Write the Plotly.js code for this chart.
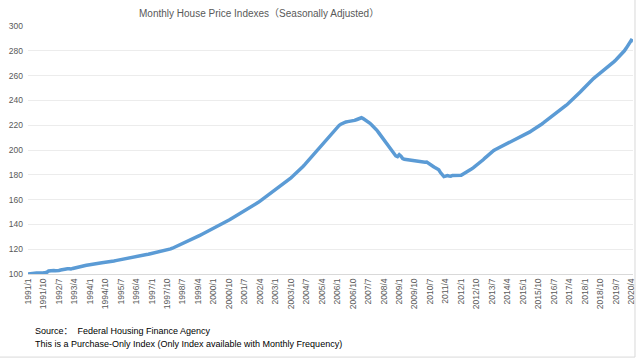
<!DOCTYPE html>
<html>
<head>
<meta charset="utf-8">
<script src="https://cdn.plot.ly/plotly-3.0.1.min.js"></script>
<style>html,body{margin:0;padding:0;background:#fff;}#chart{width:640px;height:359px;}</style>
</head>
<body>
<div id="chart"></div>
<script>
// Monthly House Price Index (SA), 1991/1 – 2020/5
const startYear = 1991;
const hpi1991 = [100.0,100.3,100.5,100.6,100.6,100.8,100.9,100.8,101.0,101.1,101.2,101.4];
const hpi1992 = [102.4,102.8,102.6,102.9,102.7,102.5,102.8,103.2,103.6,103.9,104.4,104.2];
const hpi1993 = [104.3,104.0,104.5,104.9,105.3,105.6,105.9,106.3,106.6,106.9,107.0,107.3];
const hpi1994 = [107.6,107.9,108.3,108.5,108.7,108.6,108.9,109.1,109.3,109.4,109.6,109.8];
const hpi1995 = [109.9,110.1,110.5,110.8,111.1,111.5,111.9,112.2,112.4,112.7,113.0,113.1];
const hpi1996 = [113.4,113.6,114.0,114.2,114.5,114.7,114.9,115.1,115.4,115.7,115.9,116.2];
const hpi1997 = [116.3,116.6,116.9,117.2,117.5,117.8,118.1,118.4,118.8,119.2,119.7,120.2];
const hpi1998 = [120.8,121.4,122.0,122.7,123.3,123.9,124.6,125.4,126.1,126.8,127.5,128.1];
const hpi1999 = [128.7,129.3,129.9,130.6,131.2,131.9,132.6,133.2,133.9,134.6,135.3,136.0];
const hpi2000 = [136.7,137.4,138.2,139.0,139.7,140.5,141.3,142.1,142.8,143.6,144.4,145.2];
const hpi2001 = [146.0,146.8,147.6,148.4,149.2,150.0,150.8,151.6,152.4,153.3,154.2,155.1];
const hpi2002 = [156.0,156.9,157.8,158.8,159.8,160.8,161.8,162.8,163.8,164.8,165.8,166.8];
const hpi2003 = [167.8,168.8,169.9,170.9,171.9,172.9,174.0,175.2,176.4,177.6,178.8,180.0];
const hpi2004 = [181.2,182.5,183.8,185.2,186.7,188.2,189.8,191.4,193.0,194.6,196.2,197.8];
const hpi2005 = [199.4,201.0,202.6,204.2,205.8,207.4,209.0,210.8,212.6,214.3,215.8,217.2];
const hpi2006 = [218.6,219.8,220.8,221.6,222.2,222.6,222.9,223.0,223.2,223.5,223.9,224.4];
const hpi2007 = [224.8,225.3,226.0,225.3,224.5,223.6,222.6,221.5,220.2,218.9,217.5,215.9];
const hpi2008 = [214.0,212.2,210.3,208.4,206.5,204.6,202.8,200.9,199.0,197.2,195.2,194.6];
const hpi2009 = [196.2,195.0,193.1,192.5,192.3,191.8,191.6,191.4,191.2,191.0,190.8,190.9];
const hpi2010 = [190.5,190.0,189.8,190.1,190.3,189.2,187.9,187.2,186.5,185.6,184.9,184.0];
const hpi2011 = [181.8,180.0,178.6,178.9,179.4,179.1,178.9,179.5,179.6,179.2,179.8,179.4];
const hpi2012 = [179.6,180.5,181.5,182.3,183.2,183.9,184.7,185.6,186.6,187.6,188.7,189.8];
const hpi2013 = [191.0,192.3,193.7,195.0,196.4,197.6,198.7,199.6,200.4,201.1,201.7,202.3];
const hpi2014 = [203.0,203.8,204.6,205.3,205.9,206.5,207.1,207.8,208.5,209.1,209.8,210.6];
const hpi2015 = [211.4,212.2,213.0,213.8,214.6,215.5,216.3,217.2,218.1,219.0,220.0,221.0];
const hpi2016 = [222.0,223.0,224.0,225.0,226.0,227.0,228.0,229.1,230.2,231.3,232.4,233.6];
const hpi2017 = [234.7,235.9,237.1,238.3,239.5,240.8,242.1,243.5,244.9,246.3,247.8,249.3];
const hpi2018 = [250.8,252.3,253.8,255.1,256.4,257.6,258.7,259.8,260.8,261.8,262.8,263.9];
const hpi2019 = [265.0,266.3,267.6,268.9,270.1,271.3,272.6,273.9,275.3,276.8,278.4,280.0];
const hpi2020 = [282.0,284.0,286.5,288.5,287.8];

const yearly = [hpi1991,hpi1992,hpi1993,hpi1994,hpi1995,hpi1996,hpi1997,hpi1998,hpi1999,hpi2000,
  hpi2001,hpi2002,hpi2003,hpi2004,hpi2005,hpi2006,hpi2007,hpi2008,hpi2009,hpi2010,
  hpi2011,hpi2012,hpi2013,hpi2014,hpi2015,hpi2016,hpi2017,hpi2018,hpi2019,hpi2020];

const values = [];
const monthLabels = [];
yearly.forEach((arr, yi) => {
  arr.forEach((v, mi) => {
    values.push(v);
    monthLabels.push((startYear + yi) + '/' + (mi + 1));
  });
});
const xIdx = values.map((_, i) => i);
const tickStep = 9;
const tickVals = [];
const tickText = [];
for (let i = 0; i < monthLabels.length - 1; i += tickStep) {
  tickVals.push(i);
  tickText.push(monthLabels[i]);
}

const yTicks = [100,120,140,160,180,200,220,240,260,280,300];

const fontFam = 'Liberation Sans, Arial, Noto Sans CJK SC, sans-serif';

const trace = {
  x: xIdx,
  y: values,
  type: 'scatter',
  mode: 'lines',
  line: {color: '#5b9bd5', width: 3.5},
  hoverinfo: 'skip'
};

const layout = {
  width: 640,
  height: 359,
  margin: {l: 28, r: 7, t: 26, b: 85},
  paper_bgcolor: '#ffffff',
  plot_bgcolor: '#ffffff',
  showlegend: false,
  title: {
    text: 'Monthly House Price Indexes（Seasonally Adjusted）',
    font: {family: fontFam, size: 10, color: '#595959'},
    x: 0.382, xref: 'paper', xanchor: 'center', y: 0.963, yanchor: 'middle'
  },
  xaxis: {
    range: [0, monthLabels.length - 1],
    tickmode: 'array',
    tickvals: tickVals,
    ticktext: tickText,
    tickangle: -90,
    tickfont: {family: fontFam, size: 8.5, color: '#595959'},
    showgrid: false,
    zeroline: false,
    showline: true,
    linecolor: '#d9d9d9',
    linewidth: 1,
    ticks: 'outside',
    ticklen: 0,
    tickcolor: '#d9d9d9',
    fixedrange: true
  },
  yaxis: {
    range: [100, 300],
    tickmode: 'array',
    tickvals: yTicks,
    ticktext: yTicks.map(String),
    tickfont: {family: fontFam, size: 8.5, color: '#595959'},
    showgrid: true,
    gridcolor: '#ececec',
    gridwidth: 1,
    zeroline: false,
    showline: false,
    ticks: '',
    ticklabelstandoff: 4,
    fixedrange: true
  },
  annotations: [
    {
      text: 'Source：  Federal Housing Finance Agency',
      xref: 'paper', yref: 'paper', x: 0.008, y: -0.23,
      xanchor: 'left', yanchor: 'middle', showarrow: false,
      font: {family: fontFam, size: 9, color: '#000000'}
    },
    {
      text: 'This is a Purchase-Only Index (Only Index available with Monthly Frequency)',
      xref: 'paper', yref: 'paper', x: 0.008, y: -0.282,
      xanchor: 'left', yanchor: 'middle', showarrow: false,
      font: {family: fontFam, size: 9, color: '#000000'}
    }
  ],
  shapes: [
    {type: 'line', xref: 'paper', yref: 'paper', x0: 1.0033, x1: 1.0033, y0: -0.335, y1: 1.11,
     line: {color: '#d9d9d9', width: 1}},
    {type: 'line', xref: 'paper', yref: 'paper', x0: -0.05, x1: 1.0033, y0: -0.335, y1: -0.335,
     line: {color: '#d9d9d9', width: 1}}
  ]
};

Plotly.newPlot('chart', [trace], layout, {staticPlot: true, displayModeBar: false});
</script>
</body>
</html>
